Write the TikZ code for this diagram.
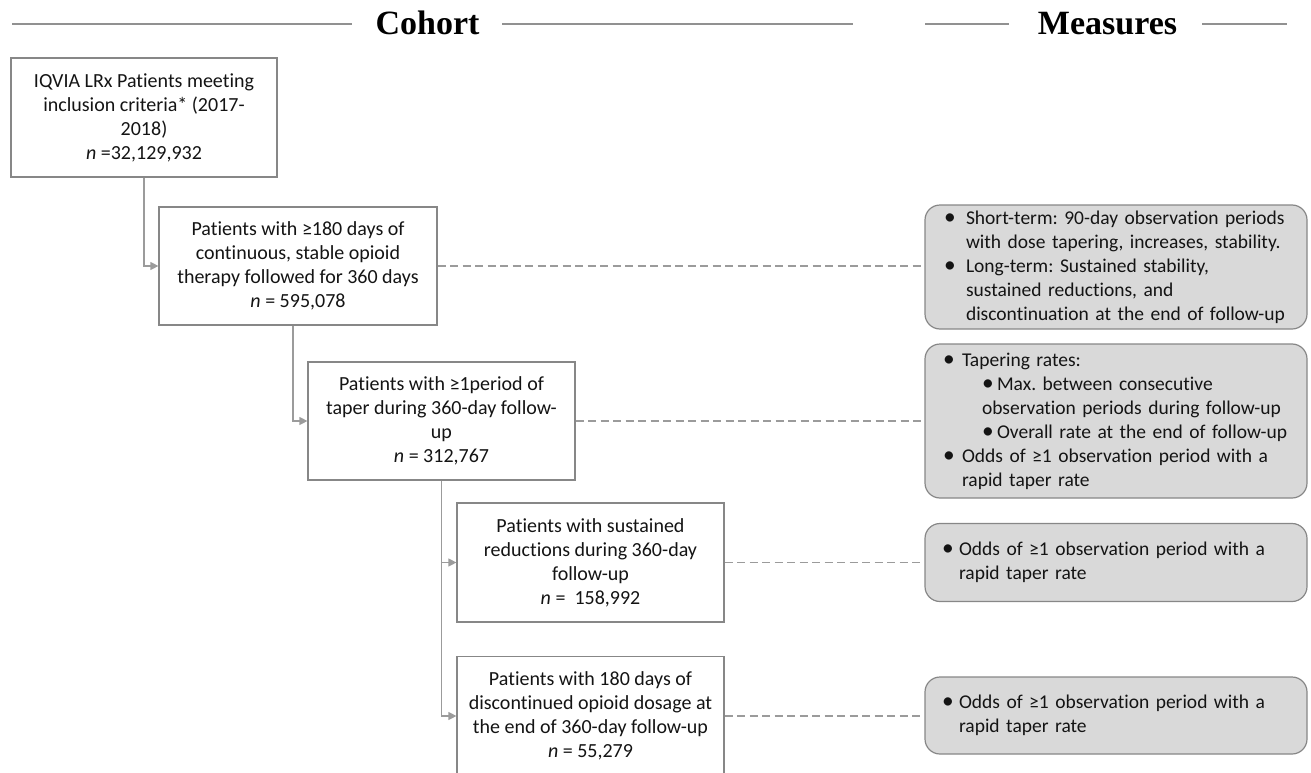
\documentclass[tikz,border=0pt]{standalone}
\usepackage{fontspec}
\setmainfont{Carlito}[Ligatures=NoCommon]
\newfontfamily\headfont{Liberation Serif}
\usetikzlibrary{arrows.meta}
\definecolor{rulegray}{RGB}{145,145,145}
\definecolor{boxgray}{RGB}{135,135,135}
\definecolor{linegray}{RGB}{155,155,155}
\definecolor{fillgray}{RGB}{217,217,217}
\definecolor{txt}{RGB}{20,20,20}
\frenchspacing
\tikzset{
  cohortbox/.style={draw=boxgray, line width=1.2pt, fill=white, align=center, inner sep=0pt,
    text=txt, font=\fontsize{20}{24}\selectfont},
  measbox/.style={draw=boxgray, line width=1.2pt, fill=fillgray, rounded corners=15pt,
    align=left, inner xsep=17pt, inner ysep=0pt, text width=348pt, minimum width=382pt,
    text=txt, font=\fontsize{19.5}{24}\selectfont},
  conn/.style={draw=linegray, line width=1.2pt, -{Triangle[length=8pt,width=8pt]}},
  dashconn/.style={draw=linegray, line width=1.2pt, dash pattern=on 8pt off 4.5pt},
  headrule/.style={draw=rulegray, line width=2pt},
  headtext/.style={font=\headfont\bfseries\fontsize{34}{40}\selectfont, inner sep=0pt, anchor=base}
}
\newcommand{\bl}[1]{\makebox[#1][l]{\scalebox{1.2}{•}}}
\newcommand{\mline}[2]{\mbox{\hspace*{#1}#2}}
\begin{document}
\begin{tikzpicture}[x=1pt,y=-1pt]
\useasboundingbox (0,0) rectangle (1311,773);
% headers
\node[headtext] (cohort) at (427.5,35) {Cohort};
\node[headtext] (measures) at (1107.5,35) {Measures};
\draw[headrule] (12,24) -- (352,24);
\draw[headrule] (502,24) -- (853,24);
\draw[headrule] (925,24) -- (1009,24);
\draw[headrule] (1202,24) -- (1287,24);
% cohort boxes
\node[cohortbox, minimum width=266pt, minimum height=119pt] (b1) at (144,117.5)
  {IQVIA LRx Patients meeting\\inclusion criteria* (2017-\\2018)\\\textit{n} =32,129,932};
\node[cohortbox, minimum width=278pt, minimum height=118pt] (b2) at (298,266)
  {Patients with ≥180 days of\\continuous, stable opioid\\therapy followed for 360 days\\\textit{n} = 595,078};
\node[cohortbox, minimum width=267pt, minimum height=118pt] (b3) at (441.5,421)
  {Patients with ≥1period of\\taper during 360-day follow-\\up\\\textit{n} = 312,767};
\node[cohortbox, minimum width=267pt, minimum height=119pt] (b4) at (590.5,562.5)
  {Patients with sustained\\reductions during 360-day\\follow-up\\\textit{n} =~~158,992};
\node[cohortbox, minimum width=267pt, minimum height=119pt] (b5) at (590.5,716)
  {Patients with 180 days of\\discontinued opioid dosage at\\the end of 360-day follow-up\\\textit{n} = 55,279};
% measure boxes
\node[measbox, minimum height=124pt] (m1) at (1116,267)
  {\mline{2pt}{\bl{22pt}Short-term: 90-day observation periods}\\
   \mline{24pt}{with dose tapering, increases, stability.}\\
   \mline{2pt}{\bl{22pt}Long-term: Sustained stability,}\\
   \mline{24pt}{sustained reductions, and}\\
   \mline{24pt}{discontinuation at the end of follow-up}};
\node[measbox, minimum height=154pt] (m2) at (1116,421)
  {\mline{1pt}{\bl{19pt}Tapering rates:}\\
   \mline{40pt}{\bl{15pt}Max. between consecutive}\\
   \mline{40pt}{observation periods during follow-up}\\
   \mline{40pt}{\bl{15pt}Overall rate at the end of follow-up}\\
   \mline{1pt}{\bl{19pt}Odds of ≥1 observation period with a}\\
   \mline{20pt}{rapid taper rate}};
\node[measbox, minimum height=78pt] (m3) at (1116,562.5)
  {\mline{0pt}{\bl{17pt}Odds of ≥1 observation period with a}\\
   \mline{17pt}{rapid taper rate}};
\node[measbox, minimum height=77pt] (m4) at (1116,715.5)
  {\mline{0pt}{\bl{17pt}Odds of ≥1 observation period with a}\\
   \mline{17pt}{rapid taper rate}};
% connectors
\draw[conn] (b1.south) |- (b2.west);
\draw[conn] ([xshift=-5pt]b2.south) |- (b3.west);
\draw[conn] (b3.south) |- (b4.west);
\draw[conn] (b3.south) |- (b5.west);
\draw[dashconn] (b2.east) -- (b2.east -| m1.west);
\draw[dashconn] (b3.east) -- (b3.east -| m2.west);
\draw[dashconn] (b4.east) -- (b4.east -| m3.west);
\draw[dashconn] (b5.east) -- (b5.east -| m4.west);
\end{tikzpicture}
\end{document}
